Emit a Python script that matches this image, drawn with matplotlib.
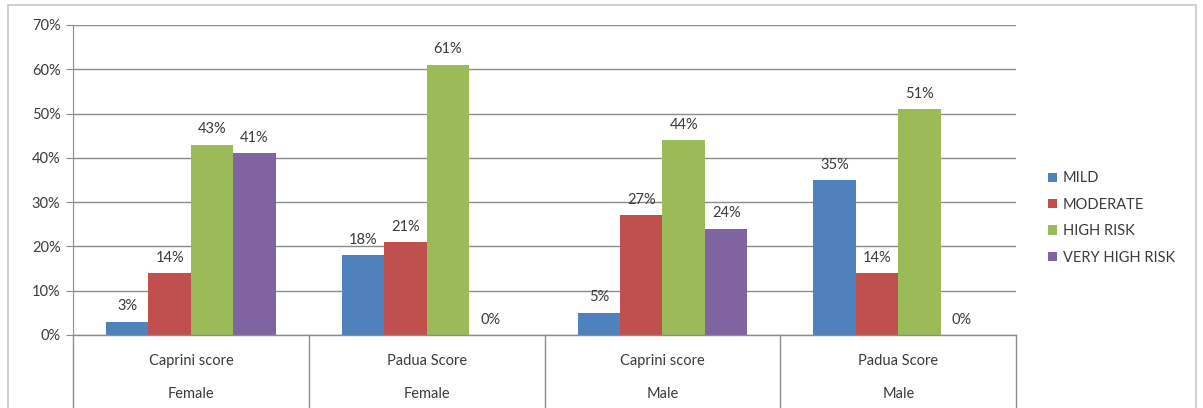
import matplotlib.pyplot as plt
from matplotlib.patches import Rectangle
import numpy as np

plt.rcParams['font.family'] = ['Lato', 'DejaVu Sans']

scores = ['Caprini score', 'Padua Score', 'Caprini score', 'Padua Score']
genders = ['Female', 'Female', 'Male', 'Male']
risk_levels = ['MILD', 'MODERATE', 'HIGH RISK', 'VERY HIGH RISK']
mild = [3, 18, 5, 35]
moderate = [14, 21, 27, 14]
high_risk = [43, 61, 44, 51]
very_high_risk = [41, 0, 24, 0]
colors = ['#4F81BD', '#C0504D', '#9BBB59', '#8064A2']

series = [mild, moderate, high_risk, very_high_risk]
fs = 10.5
txt = '#3a3a3a'

fig = plt.figure(figsize=(12.03, 4.08), dpi=100)
ax = fig.add_axes([0.0607, 0.179, 0.784, 0.7598])

# outer chart frame
fig.patches.append(Rectangle((8 / 1203, -0.01), 1188 / 1203, 1.0 - 5 / 408 + 0.01,
                             transform=fig.transFigure, fill=False,
                             edgecolor='#c8c8c8', linewidth=1.2))

x = np.arange(len(scores))
w = 0.18
for i, (vals, name, c) in enumerate(zip(series, risk_levels, colors)):
    pos = x + (i - 1.5) * w
    bars = ax.bar(pos, vals, width=w, color=c, label=name, zorder=3)
    for b, v in zip(bars, vals):
        ax.annotate(f'{v}%', (b.get_x() + b.get_width() / 2, v),
                    xytext=(0, 6), textcoords='offset points',
                    ha='center', va='bottom', fontsize=fs, color=txt)

ax.set_xlim(-0.5, 3.5)
ax.set_ylim(0, 70)
ax.set_yticks(range(0, 71, 10))
ax.set_yticklabels([f'{t}%' for t in range(0, 71, 10)], fontsize=fs, color=txt)
ax.yaxis.grid(True, color='#8c8c8c', linewidth=1, zorder=0)
ax.tick_params(axis='y', length=5, color='#8c8c8c', pad=4)
ax.set_xticks([])
for s in ['top', 'right', 'bottom']:
    ax.spines[s].set_visible(False)
ax.spines['left'].set_color('#8c8c8c')
ax.plot([-0.5, 3.5], [0, 0], color='#8c8c8c', linewidth=1, zorder=4, clip_on=False)

# two-level category labels with separators
trans = ax.get_xaxis_transform()
for b in np.arange(-0.5, 4.0, 1.0):
    ax.plot([b, b], [0, -0.25], transform=trans, color='#8c8c8c',
            linewidth=1, clip_on=False)
for xi, s, g in zip(x, scores, genders):
    ax.text(xi, -0.085, s, transform=trans, ha='center', va='center',
            fontsize=fs, color=txt)
    ax.text(xi, -0.19, g, transform=trans, ha='center', va='center',
            fontsize=fs, color=txt)

ax.legend(loc='upper left', bbox_to_anchor=(1.02, 0.57), frameon=False,
          fontsize=fs, handlelength=0.6, handleheight=0.6, handletextpad=0.4,
          labelspacing=0.85, labelcolor=txt)

fig.savefig('out.png', dpi=100)
